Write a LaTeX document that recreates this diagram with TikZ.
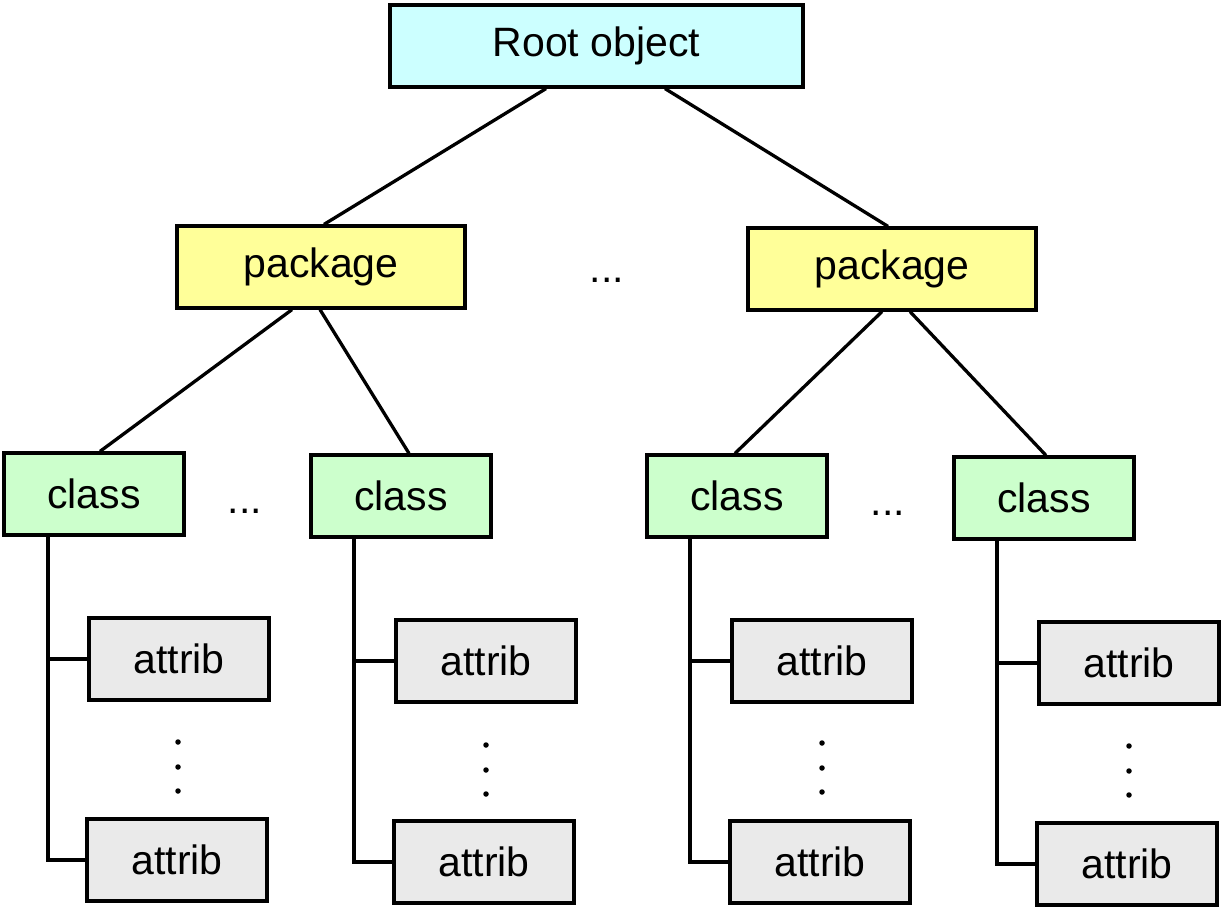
\documentclass[tikz,border=0pt]{standalone}
\usepackage{fontspec}
\setmainfont{Liberation Sans}
\definecolor{rootfill}{HTML}{CCFFFF}
\definecolor{pkgfill}{HTML}{FFFF99}
\definecolor{clsfill}{HTML}{CCFFCC}
\definecolor{attfill}{HTML}{EAEAEA}
\tikzset{
  box/.style={draw=black, line width=3.2pt, inner sep=0pt, font=\fontsize{41}{45}\selectfont},
  rootbox/.style={box, fill=rootfill, minimum width=413pt, minimum height=82pt},
  pkgbox/.style={box, fill=pkgfill, minimum width=288pt, minimum height=82pt},
  clsbox/.style={box, fill=clsfill, minimum width=180pt, minimum height=82pt},
  attbox/.style={box, fill=attfill, minimum width=180pt, minimum height=82pt},
  edge/.style={draw=black, line width=3.3pt},
  hdots/.style={font=\fontsize{41}{45}\selectfont, inner sep=0pt},
  vdot/.style={circle, fill=black, inner sep=0pt, minimum size=5.5pt}
}
\begin{document}
\begin{tikzpicture}[x=1pt, y=-1pt]
\useasboundingbox (0,0) rectangle (1224,909);
% nodes
\node[rootbox] (root) at (596.5,46) {Root object};
\node[pkgbox] (p1) at (321,267) {package};
\node[pkgbox] (p2) at (892,269) {package};
\node[hdots] (pd) at (607,280) {...};
\node[clsbox] (c1) at (94,494) {class};
\node[clsbox] (c2) at (401,496) {class};
\node[clsbox] (c3) at (737,496) {class};
\node[clsbox] (c4) at (1044,498) {class};
\node[hdots] (cd1) at (245,511) {...};
\node[hdots] (cd2) at (888,513) {...};
\node[attbox] (a1t) at (179,659) {attrib};
\node[attbox] (a1b) at (177,860) {attrib};
\node[attbox] (a2t) at (486,661) {attrib};
\node[attbox] (a2b) at (484,862) {attrib};
\node[attbox] (a3t) at (822,661) {attrib};
\node[attbox] (a3b) at (820,862) {attrib};
\node[attbox] (a4t) at (1129,663) {attrib};
\node[attbox] (a4b) at (1127,864) {attrib};
% vertical dots
\foreach \n/\x/\y in {1/178/742, 2/486/745, 3/822/743, 4/1129/746}{
  \node[vdot] (v\n a) at (\x,\y) {};
  \node[vdot] (v\n b) at (\x,\y+25) {};
  \node[vdot] (v\n c) at (\x,\y+49) {};
}
% trunk coordinates
\coordinate (t1) at ([xshift=-46pt]c1.south);
\coordinate (t2) at ([xshift=-47pt]c2.south);
\coordinate (t3) at ([xshift=-47pt]c3.south);
\coordinate (t4) at ([xshift=-47pt]c4.south);
% edges
\draw[edge] ([xshift=-50.5pt]root.south) -- ([xshift=3pt]p1.north);
\draw[edge] ([xshift=68.5pt]root.south) -- ([xshift=-4pt]p2.north);
\draw[edge] ([xshift=-29pt]p1.south) -- ([xshift=6pt]c1.north);
\draw[edge] ([xshift=-1pt]p1.south) -- ([xshift=8pt]c2.north);
\draw[edge] ([xshift=-10pt]p2.south) -- ([xshift=-2pt]c3.north);
\draw[edge] ([xshift=18pt]p2.south) -- ([xshift=2pt]c4.north);
\foreach \i in {1,2,3,4}{
  \draw[edge] (t\i) |- (a\i b.west);
  \draw[edge] (a\i t.west) -- (a\i t.west -| t\i);
}
\end{tikzpicture}
\end{document}
